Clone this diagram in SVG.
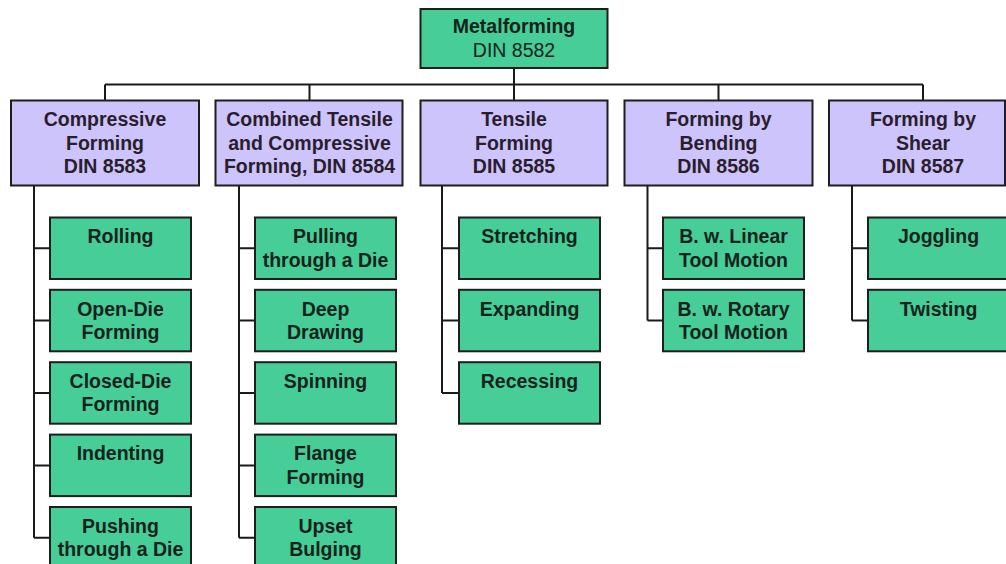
<svg xmlns="http://www.w3.org/2000/svg" width="1006" height="564" viewBox="0 0 1006 564">
<style>
.g{fill:#47CD97;stroke:#1e1e1e;stroke-width:2}
.p{fill:#CCC4FB;stroke:#1e1e1e;stroke-width:2}
text{font-family:"Liberation Sans",Arial,sans-serif;font-size:19.5px;font-weight:bold;text-anchor:middle}
.tg{fill:#15231c}
.tp{fill:#2a1d2c}
.reg{font-weight:normal}
.c{fill:none;stroke:#1a1a1a;stroke-width:2}
</style>
<rect width="1006" height="564" fill="#ffffff"/>
<g id="connectors" class="c">
<path d="M514,68 V84.5 M105,84.5 H923 M105,84.5 V100.5 M309.5,84.5 V100.5 M514,84.5 V100.5 M718.5,84.5 V100.5 M923,84.5 V100.5"/>
<path d="M34,185.5 V537.8 M34,248.3 H50 M34,320.6 H50 M34,393 H50 M34,465.4 H50 M34,537.8 H50"/>
<path d="M239,185.5 V537.8 M239,248.3 H255 M239,320.6 H255 M239,393 H255 M239,465.4 H255 M239,537.8 H255"/>
<path d="M442,185.5 V393 M442,248.3 H459 M442,320.6 H459 M442,393 H459"/>
<path d="M647.5,185.5 V320.6 M647.5,248.3 H663 M647.5,320.6 H663"/>
<path d="M852,185.5 V320.6 M852,248.3 H868 M852,320.6 H868"/>
</g>
<g id="root"><rect class="g" x="420.5" y="9" width="187" height="59"/><text class="tg" x="514" y="33.3">Metalforming</text><text class="tg reg" x="514" y="56.7">DIN 8582</text></g>
<g id="compressive"><rect class="p" x="11" y="100.5" width="188" height="85"/><text class="tp" x="105" y="126">Compressive</text><text class="tp" x="105" y="149.5">Forming</text><text class="tp" x="105" y="173">DIN 8583</text></g>
<g id="combined"><rect class="p" x="215.5" y="100.5" width="187" height="85"/><text class="tp" x="309.5" y="126">Combined Tensile</text><text class="tp" x="309.5" y="149.5">and Compressive</text><text class="tp" x="309.5" y="173">Forming, DIN 8584</text></g>
<g id="tensile"><rect class="p" x="420.5" y="100.5" width="187" height="85"/><text class="tp" x="514" y="126">Tensile</text><text class="tp" x="514" y="149.5">Forming</text><text class="tp" x="514" y="173">DIN 8585</text></g>
<g id="bending"><rect class="p" x="624.5" y="100.5" width="188" height="85"/><text class="tp" x="718.5" y="126">Forming by</text><text class="tp" x="718.5" y="149.5">Bending</text><text class="tp" x="718.5" y="173">DIN 8586</text></g>
<g id="shear"><rect class="p" x="829" y="100.5" width="176" height="85"/><text class="tp" x="923" y="126">Forming by</text><text class="tp" x="923" y="149.5">Shear</text><text class="tp" x="923" y="173">DIN 8587</text></g>
<g id="rolling"><rect class="g" x="50" y="217.5" width="141" height="61.5"/><text class="tg" x="120.5" y="243.3">Rolling</text></g>
<g id="open-die"><rect class="g" x="50" y="289.8" width="141" height="61.5"/><text class="tg" x="120.5" y="315.6">Open-Die</text><text class="tg" x="120.5" y="339">Forming</text></g>
<g id="closed-die"><rect class="g" x="50" y="362.2" width="141" height="61.5"/><text class="tg" x="120.5" y="388">Closed-Die</text><text class="tg" x="120.5" y="411.4">Forming</text></g>
<g id="indenting"><rect class="g" x="50" y="434.6" width="141" height="61.5"/><text class="tg" x="120.5" y="460.4">Indenting</text></g>
<g id="pushing"><rect class="g" x="50" y="507" width="141" height="61.5"/><text class="tg" x="120.5" y="532.8">Pushing</text><text class="tg" x="120.5" y="556.2">through a Die</text></g>
<g id="pulling"><rect class="g" x="255" y="217.5" width="141" height="61.5"/><text class="tg" x="325.5" y="243.3">Pulling</text><text class="tg" x="325.5" y="266.7">through a Die</text></g>
<g id="deep-drawing"><rect class="g" x="255" y="289.8" width="141" height="61.5"/><text class="tg" x="325.5" y="315.6">Deep</text><text class="tg" x="325.5" y="339">Drawing</text></g>
<g id="spinning"><rect class="g" x="255" y="362.2" width="141" height="61.5"/><text class="tg" x="325.5" y="388">Spinning</text></g>
<g id="flange"><rect class="g" x="255" y="434.6" width="141" height="61.5"/><text class="tg" x="325.5" y="460.4">Flange</text><text class="tg" x="325.5" y="483.8">Forming</text></g>
<g id="upset"><rect class="g" x="255" y="507" width="141" height="61.5"/><text class="tg" x="325.5" y="532.8">Upset</text><text class="tg" x="325.5" y="556.2">Bulging</text></g>
<g id="stretching"><rect class="g" x="459" y="217.5" width="141" height="61.5"/><text class="tg" x="529.5" y="243.3">Stretching</text></g>
<g id="expanding"><rect class="g" x="459" y="289.8" width="141" height="61.5"/><text class="tg" x="529.5" y="315.6">Expanding</text></g>
<g id="recessing"><rect class="g" x="459" y="362.2" width="141" height="61.5"/><text class="tg" x="529.5" y="388">Recessing</text></g>
<g id="linear"><rect class="g" x="663" y="217.5" width="141" height="61.5"/><text class="tg" x="733.5" y="243.3">B. w. Linear</text><text class="tg" x="733.5" y="266.7">Tool Motion</text></g>
<g id="rotary"><rect class="g" x="663" y="289.8" width="141" height="61.5"/><text class="tg" x="733.5" y="315.6">B. w. Rotary</text><text class="tg" x="733.5" y="339">Tool Motion</text></g>
<g id="joggling"><rect class="g" x="868" y="217.5" width="141" height="61.5"/><text class="tg" x="938.5" y="243.3">Joggling</text></g>
<g id="twisting"><rect class="g" x="868" y="289.8" width="141" height="61.5"/><text class="tg" x="938.5" y="315.6">Twisting</text></g>
</svg>
